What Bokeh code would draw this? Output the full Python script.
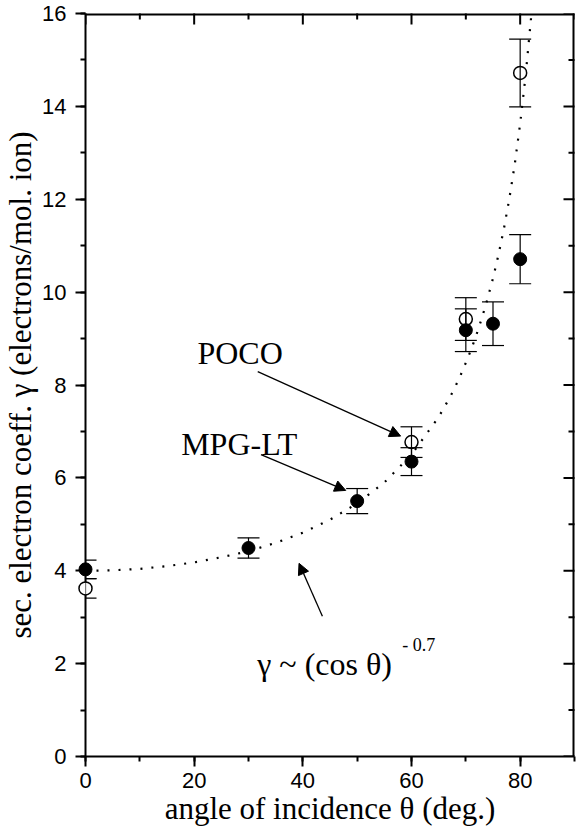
import math
from bokeh.plotting import figure
from bokeh.models import (SingleIntervalTicker, Range1d, ColumnDataSource,
                          Whisker, TeeHead, Arrow, NormalHead, Label)
from bokeh.embed import file_html
from bokeh.resources import INLINE

# ---- data ----
mpg_theta = [0, 30, 50, 60, 70, 75, 80]
mpg_gamma = [4.03, 4.49, 5.50, 6.35, 9.18, 9.32, 10.71]
mpg_err = [0.20, 0.22, 0.27, 0.30, 0.46, 0.47, 0.53]

poco_theta = [0, 60, 70, 80]
poco_gamma = [3.62, 6.77, 9.42, 14.72]
poco_err = [0.21, 0.33, 0.46, 0.73]

# dotted fit curve gamma ~ (cos theta)^-0.7
fit_theta = [0, 5, 10, 15, 20, 25, 30, 35, 40, 45, 50, 55, 60, 65, 67, 68, 69, 70, 71, 72,
             73, 74, 75, 76, 77, 78, 79, 80, 81, 82, 82.2]
fit_gamma = [4.00, 4.01, 4.04, 4.10, 4.18, 4.29, 4.42, 4.60, 4.82, 5.10, 5.45, 5.90, 6.50,
             7.31, 7.72, 7.95, 8.20, 8.48, 8.77, 9.10, 9.46, 9.86, 10.30, 10.80, 11.36,
             12.01, 12.75, 13.63, 14.66, 15.90, 16.19]

# tick positions of the frame's top and right edges
top_major = [0, 20, 40, 60, 80]
top_minor = [10, 30, 50, 70, 90]
right_major = [0, 2, 4, 6, 8, 10, 12, 14, 16]
right_minor = [1, 3, 5, 7, 9, 11, 13, 15]

x_title = "angle of incidence θ (deg.)"
y_title = "sec. electron coeff. γ (electrons/mol. ion)"

SERIF = "Liberation Serif"
SANS = "Liberation Sans"

X_MIN, X_MAX, Y_MIN, Y_MAX = 0, 90, 0, 16

p = figure(width=580, height=831, title=None,
           x_range=Range1d(X_MIN, X_MAX), y_range=Range1d(Y_MIN, Y_MAX),
           output_backend="svg", toolbar_location=None,
           min_border_left=83, min_border_right=6, min_border_top=13, min_border_bottom=75)
p.xgrid.visible = False
p.ygrid.visible = False
p.outline_line_color = None
p.background_fill_color = "white"
p.border_fill_color = "white"

xa = p.xaxis[0]
ya = p.yaxis[0]
xa.ticker = SingleIntervalTicker(interval=20, num_minor_ticks=2)
ya.ticker = SingleIntervalTicker(interval=2, num_minor_ticks=2)
for ax in (xa, ya):
    ax.axis_line_width = 2
    ax.axis_line_color = "black"
    ax.major_tick_line_width = 2
    ax.minor_tick_line_width = 2
    ax.major_tick_line_color = "black"
    ax.minor_tick_line_color = "black"
    ax.major_tick_out = 10
    ax.major_tick_in = 0
    ax.minor_tick_out = 5
    ax.minor_tick_in = 0
    ax.major_label_text_font = SANS
    ax.major_label_text_font_size = "22px"
    ax.major_label_text_color = "black"
    ax.axis_label_text_font = SERIF
    ax.axis_label_text_font_size = "31px"
    ax.axis_label_text_font_style = "normal"
    ax.axis_label_text_color = "black"
xa.axis_label = x_title
ya.axis_label = y_title
xa.major_label_standoff = 6
xa.axis_label_standoff = 0
ya.major_label_standoff = 9
ya.axis_label_standoff = 1

# top and right edges of the frame with inward ticks
p.line([X_MIN, X_MAX], [Y_MAX, Y_MAX], line_color="black", line_width=4)
p.line([X_MAX, X_MAX], [Y_MIN, Y_MAX], line_color="black", line_width=4)
p.scatter(top_major, [Y_MAX] * len(top_major), marker="dash", angle=math.pi / 2, size=22,
          line_color="black", line_width=2)
p.scatter(top_minor, [Y_MAX] * len(top_minor), marker="dash", angle=math.pi / 2, size=12,
          line_color="black", line_width=2)
p.scatter([X_MAX] * len(right_major), right_major, marker="dash", size=22,
          line_color="black", line_width=2)
p.scatter([X_MAX] * len(right_minor), right_minor, marker="dash", size=12,
          line_color="black", line_width=2)

# dotted fit curve
p.line(fit_theta, fit_gamma, line_color="black", line_width=2.2, line_dash="2 9")

# error bars
src_m = ColumnDataSource(dict(x=mpg_theta, y=mpg_gamma,
                              lo=[g - e for g, e in zip(mpg_gamma, mpg_err)],
                              hi=[g + e for g, e in zip(mpg_gamma, mpg_err)]))
src_p = ColumnDataSource(dict(x=poco_theta, y=poco_gamma,
                              lo=[g - e for g, e in zip(poco_gamma, poco_err)],
                              hi=[g + e for g, e in zip(poco_gamma, poco_err)]))
for src in (src_p, src_m):
    w = Whisker(base="x", upper="hi", lower="lo", source=src, line_width=1.2, line_color="black",
                level="overlay",
                upper_head=TeeHead(size=22, line_width=1.2, line_color="black"),
                lower_head=TeeHead(size=22, line_width=1.2, line_color="black"))
    p.add_layout(w)

# markers drawn at overlay level so the points at 0 deg are not cut by the frame
p.scatter("x", "y", source=src_p, size=13, fill_color="white", line_color="black",
          line_width=1.5, level="overlay")
p.scatter("x", "y", source=src_m, size=13, fill_color="black", line_color="black",
          line_width=1, level="overlay")

# annotations
for xs, ys, xe, ye in [(31.7, 8.29, 58.0, 6.90), (32.3, 6.50, 47.9, 5.73), (43.6, 3.02, 39.3, 4.16)]:
    p.add_layout(Arrow(x_start=xs, y_start=ys, x_end=xe, y_end=ye, line_width=1.3, line_color="black",
                       end=NormalHead(size=11, fill_color="black", line_color="black", line_width=1)))

p.add_layout(Label(x=20.6, y=8.68, text="POCO", text_font=SERIF, text_font_size="32px",
                   text_baseline="alphabetic", text_color="black"))
p.add_layout(Label(x=17.6, y=6.73, text="MPG-LT", text_font=SERIF, text_font_size="32px",
                   text_baseline="alphabetic", text_color="black"))
p.add_layout(Label(x=31.6, y=1.985, text="γ ~ (cos θ)", text_font=SERIF, text_font_size="32px",
                   text_baseline="alphabetic", text_color="black"))
p.add_layout(Label(x=58.3, y=2.41, text="- 0.7", text_font=SERIF, text_font_size="18px",
                   text_baseline="alphabetic", text_color="black"))

open("out.html", "w").write(file_html(p, INLINE))
